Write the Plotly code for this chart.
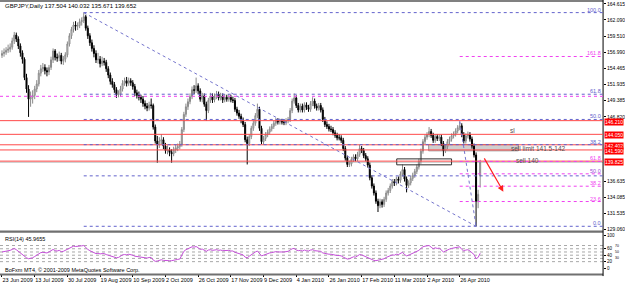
import plotly.graph_objects as go

# ---------------- data ----------------
date_label_idx = [0, 16, 32, 48, 64, 80, 96, 112, 128, 144, 160, 176, 192, 208, 224]
date_labels = ["23 Jun 2009", "13 Jul 2009", "30 Jul 2009", "19 Aug 2009", "10 Sep 2009",
               "2 Oct 2009", "26 Oct 2009", "17 Nov 2009", "9 Dec 2009", "4 Jan 2010",
               "26 Jan 2010", "17 Feb 2010", "11 Mar 2010", "2 Apr 2010", "26 Apr 2010"]

opens = [156.5,156.8,157.0,157.3,157.5,157.8,158.8,159.7,159.1,158.0,
         156.9,155.9,153.0,151.2,149.6,149.9,150.2,151.2,152.0,153.7,
         154.4,154.6,154.1,153.9,154.6,155.8,157.2,156.2,156.1,156.5,
         155.6,155.9,156.6,158.3,159.6,160.6,161.3,161.1,161.2,161.8,
         162.0,162.6,160.8,159.6,158.5,157.6,156.8,155.8,155.9,155.2,
         155.6,155.4,154.4,153.4,152.4,151.9,151.1,150.3,150.4,151.2,
         152.1,152.5,152.1,152.5,152.2,151.6,150.6,150.2,149.9,149.6,
         148.9,148.5,148.2,148.7,148.6,145.2,143.0,142.5,143.0,143.2,
         142.2,141.5,141.6,141.2,141.0,141.6,141.9,142.1,142.5,144.8,
         147.2,148.4,149.2,150.0,151.1,151.0,151.7,150.9,149.6,150.1,
         148.8,147.8,149.4,150.1,149.5,150.0,150.4,149.8,150.1,149.5,
         149.9,149.6,149.9,149.5,149.4,148.0,147.4,146.9,146.2,145.6,
         143.2,142.6,143.7,145.0,145.8,147.0,148.0,145.0,142.9,143.4,
         144.0,144.4,144.9,145.3,145.8,146.2,146.0,146.1,146.0,145.9,
         146.2,146.4,147.8,149.3,149.8,148.6,147.9,148.5,147.9,148.7,
         148.3,148.0,148.9,149.3,148.5,148.2,148.6,147.9,146.4,145.6,
         145.3,144.9,144.8,144.3,143.9,143.5,143.5,143.1,141.8,140.3,
         139.3,139.4,140.1,140.5,140.2,140.9,141.8,141.5,140.7,140.2,
         139.2,137.2,135.9,134.8,133.5,132.8,133.4,133.0,133.8,134.8,
         135.2,135.9,136.6,136.4,137.0,136.8,137.8,138.5,137.0,136.0,
         136.4,137.1,137.6,138.2,138.9,139.8,141.4,142.9,143.6,144.0,
         144.5,143.9,143.1,143.7,143.4,143.6,142.6,141.5,142.1,142.9,
         143.3,143.8,144.1,144.6,145.1,145.4,144.0,143.0,143.8,144.0,
         143.3,142.2,140.8,133.5,137.504]

highs = [157.3,157.6,157.8,158.2,158.4,159.3,160.2,160.1,159.5,158.4,
         157.3,156.2,153.6,151.8,150.8,151.0,151.7,152.6,154.2,155.0,
         155.3,155.1,154.6,155.0,156.3,157.6,157.5,156.8,157.1,156.9,
         156.4,157.0,158.7,160.0,161.0,161.8,161.9,161.7,162.3,162.5,
         163.25,162.9,161.2,160.0,159.0,158.1,157.3,156.9,156.4,156.3,
         156.1,155.8,154.8,153.8,152.9,152.3,151.5,151.0,151.7,152.6,
         153.0,153.1,153.0,152.9,152.6,152.0,151.1,150.8,150.3,150.1,
         149.4,149.0,149.2,149.7,148.9,145.6,143.8,143.6,144.1,143.6,
         142.7,142.3,142.0,141.7,142.1,142.4,142.6,143.0,145.2,147.6,
         148.9,149.7,150.5,151.6,151.8,153.0,152.1,151.3,150.6,150.5,
         149.2,149.8,150.6,150.5,150.5,150.9,150.8,150.6,150.5,150.4,
         150.3,150.4,150.3,150.0,149.8,148.4,147.9,147.3,146.7,146.0,
         143.7,144.1,145.4,146.2,147.4,148.9,148.4,145.4,143.8,144.4,
         144.8,145.3,145.7,146.2,146.6,146.6,146.5,146.5,146.4,146.6,
         146.8,148.2,149.7,150.5,150.2,149.0,148.9,148.9,149.1,149.1,
         148.7,149.3,149.9,149.7,148.9,149.0,149.0,148.3,146.8,146.1,
         145.7,145.4,145.2,144.7,144.3,144.1,143.9,143.5,142.2,140.7,
         139.9,140.5,140.9,140.9,141.3,142.4,142.2,141.9,141.1,140.6,
         139.6,137.6,136.3,135.2,133.9,133.9,133.8,134.2,135.2,135.6,
         136.3,137.0,137.0,137.4,137.4,138.2,139.3,138.9,137.4,136.8,
         137.5,138.0,138.6,139.3,140.2,141.8,143.3,144.0,144.4,145.2,
         144.9,144.3,144.1,144.1,144.0,144.0,143.0,142.5,143.3,143.7,
         144.2,144.5,145.0,145.5,146.1,145.8,144.4,144.2,144.5,144.4,
         143.7,142.6,141.2,135.3,140.032]

lows = [156.1,156.3,156.6,156.9,157.0,157.4,158.3,158.6,157.5,156.3,
        155.2,152.6,150.6,146.8,148.4,148.9,149.6,150.7,151.6,153.2,
        153.9,153.5,153.2,153.4,154.2,155.3,155.7,155.5,155.6,155.1,
        155.0,155.4,156.2,157.9,159.1,160.1,160.4,160.5,160.8,161.2,
        161.6,160.4,159.1,158.0,157.1,156.2,155.3,155.2,154.6,154.8,
        154.9,153.9,152.9,151.9,151.4,150.6,149.8,149.9,150.0,150.8,
        151.7,151.6,151.7,151.7,151.1,150.1,149.7,149.4,149.0,148.4,
        148.0,147.7,147.8,148.1,144.8,142.6,139.6,141.9,142.5,141.7,
        141.0,140.9,140.6,139.6,140.6,141.1,141.4,141.7,142.1,144.4,
        146.8,147.9,148.8,149.6,150.4,150.6,150.4,149.2,149.1,148.4,
        146.2,147.4,149.0,149.0,149.1,149.6,149.4,149.4,149.0,149.1,
        149.2,149.2,149.1,149.0,147.6,147.0,146.5,145.8,145.2,142.8,
        139.3,142.2,143.3,144.6,145.4,146.6,144.6,142.5,142.4,143.0,
        143.6,144.0,144.5,144.9,145.4,145.6,145.6,145.6,145.5,145.5,
        145.8,146.0,147.4,148.9,148.2,147.5,147.5,147.5,147.5,147.9,
        147.6,147.6,148.5,148.1,147.8,147.8,147.5,146.0,145.2,144.9,
        144.5,144.4,143.9,143.5,143.1,143.1,142.7,141.4,139.9,138.9,
        138.9,139.0,139.7,139.8,139.8,140.5,141.1,140.3,139.8,138.8,
        136.8,135.5,134.4,133.1,131.8,132.4,132.5,132.6,133.4,134.4,
        134.8,135.5,135.9,136.0,136.3,136.4,137.4,136.6,134.9,135.6,
        136.0,136.7,137.2,137.8,138.5,139.4,141.0,142.5,143.2,143.6,
        143.5,142.7,142.7,143.0,143.0,142.2,140.6,141.1,141.7,142.5,
        142.9,143.4,143.7,144.2,144.7,143.6,142.6,142.6,143.4,142.9,
        141.8,140.4,129.55,132.4,135.671]

closes = [156.8,157.0,157.3,157.5,157.8,158.8,159.7,159.1,158.0,156.9,
          155.9,153.0,151.2,149.6,149.9,150.2,151.2,152.0,153.7,154.4,
          154.6,154.1,153.9,154.6,155.8,157.2,156.2,156.1,156.5,155.6,
          155.9,156.6,158.3,159.6,160.6,161.3,161.1,161.2,161.8,162.0,
          162.6,160.8,159.6,158.5,157.6,156.8,155.8,155.9,155.2,155.6,
          155.4,154.4,153.4,152.4,151.9,151.1,150.3,150.4,151.2,152.1,
          152.5,152.1,152.5,152.2,151.6,150.6,150.2,149.9,149.6,148.9,
          148.5,148.2,148.7,148.6,145.2,143.0,142.5,143.0,143.2,142.2,
          141.5,141.6,141.2,141.0,141.6,141.9,142.1,142.5,144.8,147.2,
          148.4,149.2,150.0,151.1,151.0,151.7,150.9,149.6,150.1,148.8,
          147.8,149.4,150.1,149.5,150.0,150.4,149.8,150.1,149.5,149.9,
          149.6,149.9,149.5,149.4,148.0,147.4,146.9,146.2,145.6,143.2,
          142.6,143.7,145.0,145.8,147.0,148.0,145.0,142.9,143.4,144.0,
          144.4,144.9,145.3,145.8,146.2,146.0,146.1,146.0,145.9,146.2,
          146.4,147.8,149.3,149.8,148.6,147.9,148.5,147.9,148.7,148.3,
          148.0,148.9,149.3,148.5,148.2,148.6,147.9,146.4,145.6,145.3,
          144.9,144.8,144.3,143.9,143.5,143.5,143.1,141.8,140.3,139.3,
          139.4,140.1,140.5,140.2,140.9,141.8,141.5,140.7,140.2,139.2,
          137.2,135.9,134.8,133.5,132.8,133.4,133.0,133.8,134.8,135.2,
          135.9,136.6,136.4,137.0,136.8,137.8,138.5,137.0,136.0,136.4,
          137.1,137.6,138.2,138.9,139.8,141.4,142.9,143.6,144.0,144.5,
          143.9,143.1,143.7,143.4,143.6,142.6,141.5,142.1,142.9,143.3,
          143.8,144.1,144.6,145.1,145.4,144.0,143.0,143.8,144.0,143.3,
          142.2,140.8,133.5,134.6,139.652]

rsi = [50,51,53,54,55,58,61,57,52,47,
       43,36,32,29,30,32,36,40,45,48,
       49,47,47,50,54,58,54,53,55,51,
       52,55,60,63,66,68,67,67,69,69,
       70,63,58,54,51,48,45,46,44,45,
       45,42,40,37,36,34,32,33,37,41,
       42,41,43,42,40,37,36,35,34,33,
       32,31,33,33,25,21,22,25,26,24,
       23,24,23,23,25,26,27,28,41,52,
       57,60,63,66,65,67,63,58,59,55,
       52,56,57,55,56,57,55,56,54,55,
       54,55,53,53,49,47,45,43,41,34,
       32,37,42,45,50,53,44,38,40,43,
       45,47,48,50,51,50,51,50,50,51,
       52,56,60,61,56,54,55,53,56,54,
       53,56,57,54,53,54,52,47,45,44,
       43,43,41,40,39,39,38,34,30,28,
       29,33,35,34,38,42,41,38,36,33,
       28,26,24,23,24,27,26,29,33,35,
       38,41,40,43,42,46,49,42,38,40,
       43,45,48,51,55,61,66,68,69,70,
       65,60,63,61,62,56,50,53,57,59,
       61,62,64,65,66,58,53,56,57,53,
       48,42,29,33,45.9655]

price_ticks = [164.615, 162.090, 159.510, 156.990, 154.465, 151.935, 149.385, 146.820,
               136.635, 134.085, 131.535, 129.060]
price_tick_text = ["164.615", "162.090", "159.510", "156.990", "154.465", "151.935", "149.385",
                   "146.820", "136.635", "134.085", "131.535", "129.060"]
red_levels = [146.210, 144.050, 142.402, 141.590, 139.825]
bid_price = 139.652
rsi_levels = [20, 30, 40, 50, 60, 70]
rsi_ticks = [0, 20, 40, 60, 100]
rsi_minor_ticks = [30, 50, 70]

fib1_high, fib1_low, fib1_start, fib1_end = 163.25, 129.55, 40, 232     # blue fibo
fib1_ratios = [100.0, 61.8, 50.0, 38.2, 23.6, 0.0]
fib1_labels = ["100.0", "61.8", "50.0", "38.2", "", "0.0"]
fib2_high, fib2_low, fib2_start, fib2_end = 146.1, 129.55, 224, 232     # magenta fibo
fib2_ratios = [161.8, 61.8, 50.0, 38.2, 23.6]
fib2_labels = ["161.8", "61.8", "50.0", "38.2", "23.6"]
magenta_hline = 150.05

title_text = "GBPJPY,Daily 137.504 140.032 135.671 139.652"

# ---------------- layout helpers (pixels) ----------------
W, H = 625, 287
AX_PX = 605
def px_x(p): return p / W
def px_y(p): return 1 - p / H
PX_BAR, PX0 = 2.05, 2.0
x_rng = [(0 - PX0) / PX_BAR, (AX_PX - PX0) / PX_BAR]
def bar_at(p): return (p - PX0) / PX_BAR
def price_at(p): return 129.06 + (231 - p) / 6.385

FONT = "Liberation Sans, Arial, sans-serif"
BLUE = "#6262cc"
MAG = "#f040f0"
RED = "#ff4a4a"

idx = list(range(len(closes)))

fig = go.Figure()
fig.add_trace(go.Candlestick(
    x=idx, open=opens, high=highs, low=lows, close=closes,
    xaxis="x", yaxis="y", whiskerwidth=0,
    increasing=dict(line=dict(color="#8a8a8a", width=1), fillcolor="#e6e6e6"),
    decreasing=dict(line=dict(color="#000000", width=1), fillcolor="#000000"),
    hoverinfo="skip", showlegend=False))
fig.add_trace(go.Scatter(x=idx, y=rsi, mode="lines", xaxis="x", yaxis="y2",
                         line=dict(color="#c54fd9", width=1), hoverinfo="skip",
                         showlegend=False))

shapes = []
ann = []
# frame
shapes.append(dict(type="line", xref="paper", yref="paper", x0=0, x1=px_x(AX_PX),
                   y0=px_y(1), y1=px_y(1), line=dict(color="#808080", width=2)))
shapes.append(dict(type="rect", xref="paper", yref="paper", x0=0, x1=px_x(AX_PX),
                   y0=px_y(234.5), y1=px_y(232), fillcolor="#707070", line=dict(width=0)))
shapes.append(dict(type="rect", xref="paper", yref="paper", x0=0, x1=px_x(AX_PX),
                   y0=px_y(277.5), y1=px_y(275.5), fillcolor="#707070", line=dict(width=0)))
shapes.append(dict(type="line", xref="paper", yref="paper", x0=px_x(AX_PX), x1=px_x(AX_PX),
                   y0=px_y(278), y1=1, line=dict(color="#000000", width=1)))

# gray zone + outline box
shapes.append(dict(type="rect", xref="x", yref="y", x0=bar_at(430), x1=bar_at(520),
                   y0=141.45, y1=142.45, fillcolor="#cfcfcf", line=dict(color="#9a9a9a", width=1),
                   layer="below"))
shapes.append(dict(type="rect", xref="x", yref="y", x0=bar_at(398), x1=bar_at(453),
                   y0=139.24, y1=140.18, line=dict(color="#303030", width=1)))

# horizontal lines
for lv in red_levels:
    shapes.append(dict(type="line", xref="paper", yref="y", x0=0, x1=px_x(AX_PX), y0=lv, y1=lv,
                       line=dict(color=RED, width=1)))
    ann.append(dict(xref="paper", yref="y", x=px_x(606), y=lv, xanchor="left", yanchor="middle",
                    text=f"{lv:.3f}", showarrow=False, bgcolor="#ff0000", borderpad=0,
                    yshift=-1, font=dict(family=FONT, size=5, color="white")))
shapes.append(dict(type="line", xref="paper", yref="y", x0=0, x1=px_x(AX_PX), y0=bid_price,
                   y1=bid_price, line=dict(color="#c0c0c0", width=1), layer="below"))
shapes.append(dict(type="line", xref="paper", yref="y", x0=0, x1=px_x(AX_PX), y0=magenta_hline,
                   y1=magenta_hline, line=dict(color=MAG, width=1, dash="dot")))

for r, lab in zip(fib1_ratios, fib1_labels):
    lv = fib1_low + (fib1_high - fib1_low) * r / 100
    shapes.append(dict(type="line", xref="x", yref="y", x0=fib1_start, x1=x_rng[1], y0=lv, y1=lv,
                       line=dict(color=BLUE, width=1, dash="dot")))
    if lab:
        ann.append(dict(xref="paper", yref="y", x=px_x(604), y=lv, xanchor="right", yanchor="bottom",
                        text=lab, showarrow=False, borderpad=0, yshift=-1,
                        font=dict(family=FONT, size=5.5, color=BLUE)))
for r, lab in zip(fib2_ratios, fib2_labels):
    lv = fib2_low + (fib2_high - fib2_low) * r / 100
    shapes.append(dict(type="line", xref="x", yref="y", x0=fib2_start, x1=x_rng[1], y0=lv, y1=lv,
                       line=dict(color=MAG, width=1, dash="dot")))
    ann.append(dict(xref="paper", yref="y", x=px_x(604), y=lv, xanchor="right", yanchor="bottom",
                    text=lab, showarrow=False, borderpad=0, yshift=-1,
                    font=dict(family=FONT, size=5.5, color=MAG if lab != "50.0" else "#9a4ad8")))

# trend lines
shapes.append(dict(type="line", xref="x", yref="y", x0=fib1_start, y0=fib1_high, x1=fib1_end,
                   y1=fib1_low, line=dict(color="#7474cc", width=1, dash="dot")))
shapes.append(dict(type="line", xref="x", yref="y", x0=fib2_start, y0=fib2_high, x1=fib2_end,
                   y1=fib2_low, line=dict(color="#7474cc", width=1, dash="dot")))

# RSI levels
for lv in rsi_levels:
    shapes.append(dict(type="line", xref="paper", yref="y2", x0=0, x1=px_x(AX_PX), y0=lv, y1=lv,
                       line=dict(color="#a8a8a8", width=1, dash="dot"), layer="below"))
for lv in rsi_minor_ticks:
    ann.append(dict(xref="paper", yref="y2", x=px_x(616), y=lv, xanchor="left", yanchor="middle",
                    text=str(lv), showarrow=False, borderpad=0,
                    font=dict(family=FONT, size=3.5, color="#000")))

# texts
ann.append(dict(xref="paper", yref="paper", x=px_x(3), y=px_y(6), xanchor="left", yanchor="middle",
                text=title_text, showarrow=False, font=dict(family=FONT, size=6, color="#000")))
ann.append(dict(xref="paper", yref="paper", x=px_x(3), y=px_y(241), xanchor="left", yanchor="middle",
                text="RSI(14) 45.9655", showarrow=False, font=dict(family=FONT, size=5.5, color="#000")))
ann.append(dict(xref="paper", yref="paper", x=px_x(3), y=px_y(272), xanchor="left", yanchor="middle",
                text="BoFxm MT4, © 2001-2009 MetaQuotes Software Corp.", showarrow=False,
                font=dict(family=FONT, size=5.5, color="#000")))
for txt, p_x, p_y in [("sl", 510, 131), ("sell limit 141.5-142", 511, 149.5), ("sell 140", 516, 161.5)]:
    ann.append(dict(xref="x", yref="y", x=bar_at(p_x), y=price_at(p_y), xanchor="left",
                    yanchor="middle", text=txt, showarrow=False,
                    font=dict(family=FONT, size=6.5, color="#505050")))
# red arrow
ann.append(dict(xref="x", yref="y", x=bar_at(505), y=price_at(193), axref="x", ayref="y",
                ax=bar_at(485), ay=price_at(158), text="", showarrow=True, arrowhead=2,
                arrowsize=1, arrowwidth=1.2, arrowcolor="#ff2020"))

fig.update_layout(
    width=W, height=H, margin=dict(l=0, r=0, t=0, b=0),
    paper_bgcolor="white", plot_bgcolor="white", showlegend=False,
    font=dict(family=FONT, size=6, color="#000"),
    shapes=shapes, annotations=ann,
    xaxis=dict(domain=[0, px_x(AX_PX)], range=x_rng, anchor="y2",
               tickvals=date_label_idx, ticktext=date_labels, ticks="outside", ticklen=2,
               tickcolor="#000", ticklabelposition="outside right", tickangle=0,
               tickfont=dict(family=FONT, size=5.5, color="#000"),
               showgrid=False, zeroline=False, showline=False,
               rangeslider=dict(visible=False), fixedrange=True),
    yaxis=dict(domain=[px_y(232), px_y(1)], range=[price_at(232), price_at(1)],
               side="right", anchor="x", tickvals=price_ticks, ticktext=price_tick_text,
               ticks="outside", ticklen=2, tickcolor="#000",
               tickfont=dict(family=FONT, size=5, color="#000"),
               showgrid=False, zeroline=False, showline=False, fixedrange=True),
    yaxis2=dict(domain=[px_y(276), px_y(235)], range=[-18.5, 107.7],
                side="right", anchor="x", tickvals=rsi_ticks, ticktext=[str(v) for v in rsi_ticks],
                ticks="outside", ticklen=2, tickcolor="#000",
                tickfont=dict(family=FONT, size=4.5, color="#000"),
                showgrid=False, zeroline=False, showline=False, fixedrange=True),
)

fig.write_html("out.html", config={"displayModeBar": False})
